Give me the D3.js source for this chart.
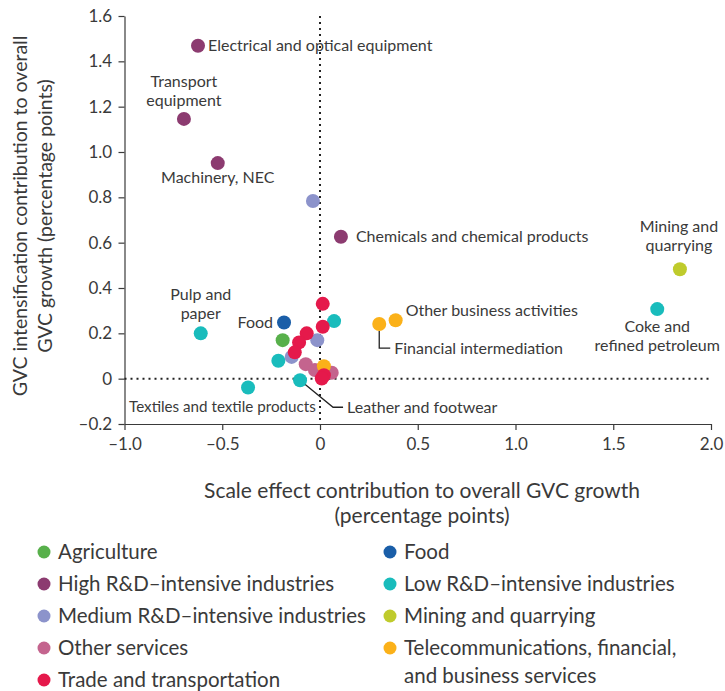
<!DOCTYPE html>
<html>
<head>
<meta charset="utf-8">
<script src="https://cdn.jsdelivr.net/npm/d3@7"></script>
<style>
  html, body { margin: 0; padding: 0; background: #fff; }
  svg { display: block; font-family: Lato, "Open Sans", sans-serif; }
  text { fill: #3a3a3a; }
</style>
</head>
<body>
<svg id="chart" width="725" height="691"></svg>
<script>
// ---- Data ----
const groups = [
  "Agriculture", "Food", "High R&D–intensive industries", "Low R&D–intensive industries",
  "Medium R&D–intensive industries", "Mining and quarrying", "Other services",
  "Telecommunications, financial, and business services", "Trade and transportation"
];
const groupColors = ["#58b04b", "#1a5ea8", "#8c3b70", "#19bcbc", "#8c93cb", "#bfcb2c", "#c4648e", "#fbb119", "#e5194b"];

// points per group: [scale effect (x), intensification (y)]
const agriculture = [[-0.191, 0.170]];
const food = [[-0.184, 0.248]];
const highRD = [[-0.624, 1.469], [-0.696, 1.146], [-0.523, 0.951], [0.107, 0.626]];
const highRDNames = ["Electrical and optical equipment", "Transport equipment", "Machinery, NEC", "Chemicals and chemical products"];
const lowRD = [[1.725, 0.307], [-0.610, 0.200], [-0.368, -0.039], [-0.102, -0.007], [0.072, 0.254], [-0.213, 0.079]];
const lowRDNames = ["Coke and refined petroleum", "Pulp and paper", "Textiles and textile products", "Leather and footwear", "", ""];
const mediumRD = [[-0.036, 0.784], [-0.014, 0.170], [-0.145, 0.096]];
const mining = [[1.841, 0.483]];
const otherServices = [[-0.073, 0.064], [-0.026, 0.038], [0.060, 0.026]];
const telecom = [[0.387, 0.258], [0.303, 0.241], [0.020, 0.055]];
const telecomNames = ["Other business activities", "Financial intermediation", ""];
const trade = [[0.014, 0.330], [0.014, 0.229], [-0.068, 0.200], [-0.107, 0.160], [-0.129, 0.116], [0.020, 0.015], [0.009, 0.001]];

const seriesValues = [agriculture, food, highRD, lowRD, mediumRD, mining, otherServices, telecom, trade];

const xTicks = [-1.0, -0.5, 0, 0.5, 1.0, 1.5, 2.0];
const yTicks = [-0.2, 0, 0.2, 0.4, 0.6, 0.8, 1.0, 1.2, 1.4, 1.6];

const xTitle = ["Scale effect contribution to overall GVC growth", "(percentage points)"];
const yTitle = ["GVC intensification contribution to overall", "GVC growth (percentage points)"];

// ---- Layout ----
const svg = d3.select("#chart");
const x = d3.scaleLinear().domain([-1, 2]).range([124.5, 711]);
const y = d3.scaleLinear().domain([-0.2, 1.6]).range([424, 16]);

const fmt = v => {
  if (v === 0) return "0";
  const s = Math.abs(v).toFixed(1);
  return (v < 0 ? "–" : "") + s;
};

// Axes
const xAxis = svg.append("g").attr("transform", `translate(0,${y(-0.2)})`)
  .call(d3.axisBottom(x).tickValues(xTicks).tickFormat(fmt).tickSize(6).tickSizeOuter(0));
const yAxis = svg.append("g").attr("transform", `translate(${x(-1)},0)`)
  .call(d3.axisLeft(y).tickValues(yTicks).tickFormat(fmt).tickSize(6).tickSizeOuter(0));
[xAxis, yAxis].forEach(a => {
  a.selectAll("path, line").attr("stroke", "#3a3a3a").attr("stroke-width", 1.2);
  a.selectAll("text").attr("font-size", 17).attr("fill", "#3a3a3a").attr("font-family", "Lato, sans-serif");
});
xAxis.selectAll("text").attr("dy", "1.0em");
yAxis.selectAll("text").attr("dx", "-0.2em");

// zero reference lines
svg.append("line").attr("x1", x(-1)).attr("x2", x(2)).attr("y1", y(0)).attr("y2", y(0))
  .attr("stroke", "#222").attr("stroke-width", 2).attr("stroke-dasharray", "2,4");
svg.append("line").attr("x1", x(0)).attr("x2", x(0)).attr("y1", y(1.6)).attr("y2", y(-0.2))
  .attr("stroke", "#222").attr("stroke-width", 2).attr("stroke-dasharray", "2,4");

// Axis titles
svg.append("text").attr("x", 422).attr("y", 498).attr("text-anchor", "middle").attr("font-size", 21).text(xTitle[0]);
svg.append("text").attr("x", 422).attr("y", 523).attr("text-anchor", "middle").attr("font-size", 21).text(xTitle[1]);
const yt = svg.append("g").attr("transform", "translate(0,216) rotate(-90)");
yt.append("text").attr("x", 0).attr("y", 27).attr("text-anchor", "middle").attr("font-size", 19.5).text(yTitle[0]);
yt.append("text").attr("x", 0).attr("y", 52).attr("text-anchor", "middle").attr("font-size", 19.5).text(yTitle[1]);

// Leader lines
const lab = svg.append("g").attr("font-size", 16);
const leader = d3.line();
const fin = telecom[1], lea = lowRD[3];
svg.append("path").attr("d", leader([[x(fin[0]), y(fin[1]) + 7], [x(fin[0]), y(fin[1]) + 24], [x(fin[0]) + 11, y(fin[1]) + 24]]))
  .attr("fill", "none").attr("stroke", "#222").attr("stroke-width", 1.3);
svg.append("path").attr("d", leader([[x(lea[0]), y(lea[1])], [x(lea[0]) + 33, y(lea[1]) + 27], [x(lea[0]) + 43, y(lea[1]) + 27]]))
  .attr("fill", "none").attr("stroke", "#222").attr("stroke-width", 1.3);

// Points
seriesValues.forEach((pts, gi) => {
  svg.append("g").selectAll("circle").data(pts).join("circle")
    .attr("cx", d => x(d[0])).attr("cy", d => y(d[1])).attr("r", 7)
    .attr("fill", groupColors[gi]);
});

// Labels (positioned relative to the points)
function label(pt, dx, dy, lines, anchor, size) {
  const t = lab.append("text").attr("text-anchor", anchor)
    .attr("x", x(pt[0]) + dx).attr("y", y(pt[1]) + dy);
  if (size) t.attr("font-size", size);
  lines.forEach((l, i) => t.append("tspan").attr("x", x(pt[0]) + dx).attr("dy", i === 0 ? "0.35em" : 19).text(l));
}
label(highRD[0], 10, 0, [highRDNames[0]], "start");
label(highRD[1], 0, -38, ["Transport", "equipment"], "middle");
label(highRD[2], 0, 14, [highRDNames[2]], "middle");
label(highRD[3], 15, 0, [highRDNames[3]], "start");
label(mining[0], -1, -43, ["Mining and", "quarrying"], "middle");
label(lowRD[0], 0, 17, ["Coke and", "refined petroleum"], "middle");
label(lowRD[1], 0, -39, ["Pulp and", "paper"], "middle");
label(lowRD[2], -119, 19, [lowRDNames[2]], "start", 15.2);
label(lowRD[3], 47, 27, [lowRDNames[3]], "start");
label(food[0], -11, 0, ["Food"], "end");
label(telecom[0], 10, -10, [telecomNames[0]], "start");
label(telecom[1], 15, 24, [telecomNames[1]], "start");

// Legend
const legendItems = [
  { g: 0, col: 0, row: 0 }, { g: 2, col: 0, row: 1 }, { g: 4, col: 0, row: 2 }, { g: 6, col: 0, row: 3 }, { g: 8, col: 0, row: 4 },
  { g: 1, col: 1, row: 0 }, { g: 3, col: 1, row: 1 }, { g: 5, col: 1, row: 2 }, { g: 7, col: 1, row: 3 }
];
const legendLines = {7: ["Telecommunications, financial,", "and business services"]};
const leg = svg.append("g").attr("font-size", 20.5);
legendItems.forEach(it => {
  const lx = it.col === 0 ? 44 : 390;
  const ly = 552 + it.row * 32;
  leg.append("circle").attr("cx", lx).attr("cy", ly).attr("r", 6.5).attr("fill", groupColors[it.g]);
  const lines = legendLines[it.g] || [groups[it.g]];
  const t = leg.append("text").attr("x", lx + 14).attr("y", ly);
  lines.forEach((l, i) => t.append("tspan").attr("x", lx + 14).attr("dy", i === 0 ? "0.35em" : 28).text(l));
});
</script>
</body>
</html>
